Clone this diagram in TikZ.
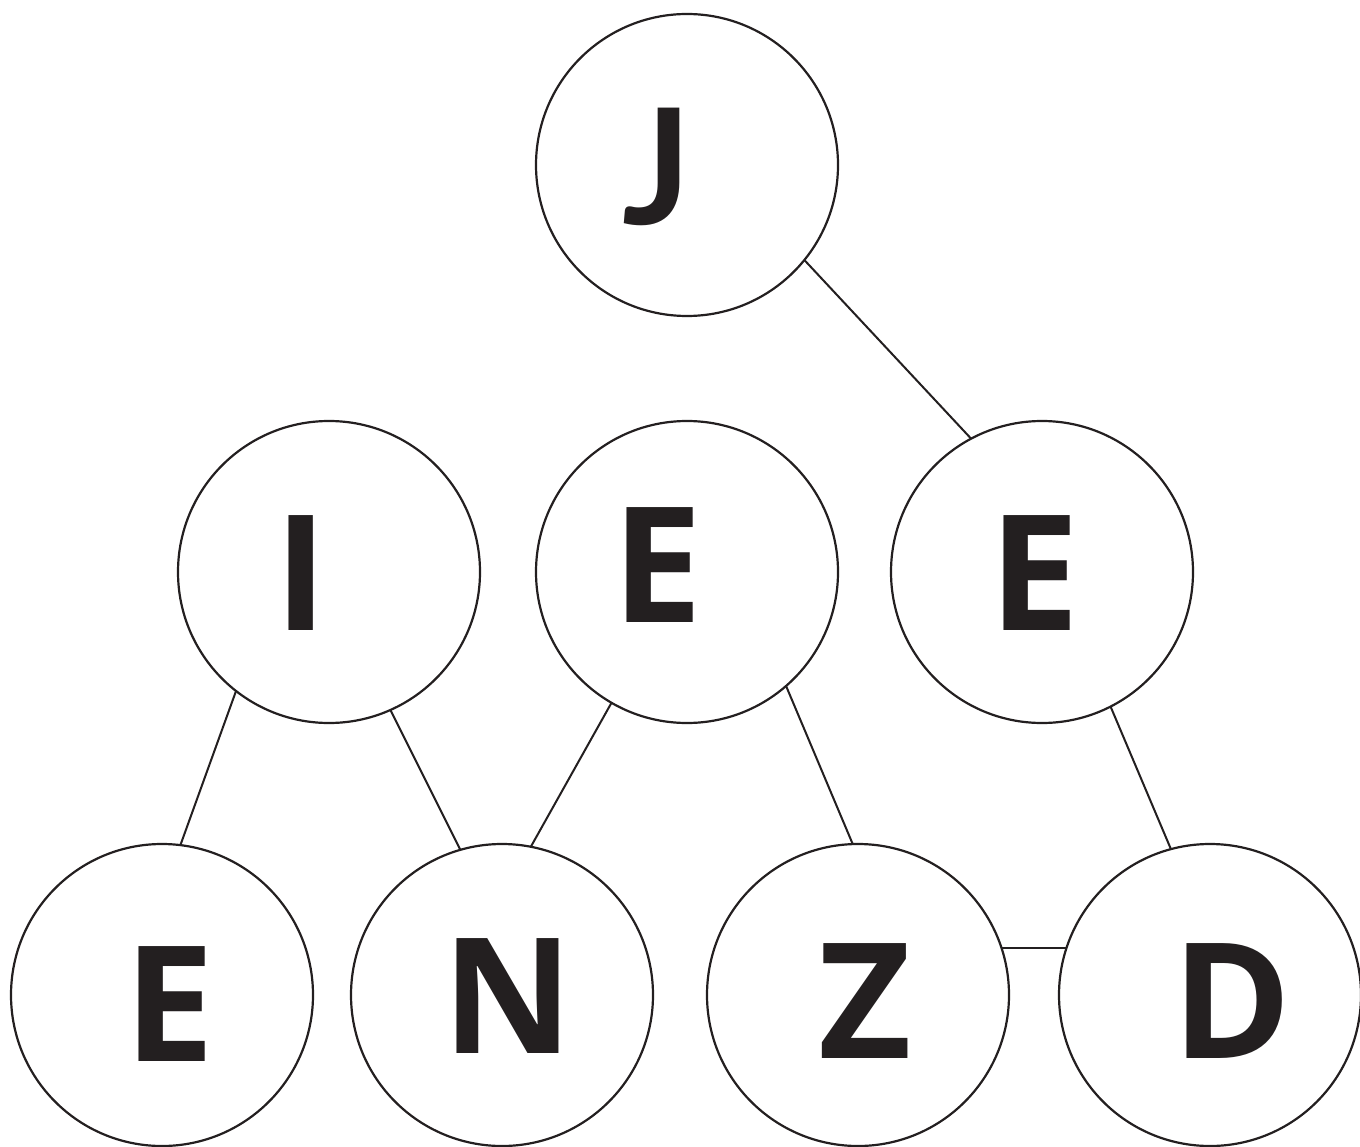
\documentclass[tikz,border=0pt]{standalone}
\usepackage{fontspec}
\setmainfont{Open Sans}
\newfontfamily\jfont{Lato}
\definecolor{ink}{HTML}{231F20}
\begin{document}
\begin{tikzpicture}[x=1pt,y=-1pt,
  ball/.style={circle,draw=ink,line width=2.2pt,minimum size=302pt,inner sep=0pt,outer sep=0pt},
  letter/.style={anchor=base,inner sep=0pt,text=ink,font=\fontsize{161}{161}\selectfont\bfseries},
  link/.style={draw=ink,line width=2pt}]
\useasboundingbox (0,0) rectangle (1360,1147);
% circles
\node[ball] (J) at (687,165) {};
\node[ball] (I) at (329,572) {};
\node[ball] (Em) at (687,572) {};
\node[ball] (Er) at (1042,572) {};
\node[ball] (Eb) at (162,995) {};
\node[ball] (N) at (502,995) {};
\node[ball] (Z) at (858,995) {};
\node[ball] (D) at (1210,995) {};
% letters
\node[letter,font=\fontsize{161}{161}\selectfont\jfont\bfseries] (tJ) at (657,225) {J};
\node[letter] (tI) at (301,630) {I};
\node[letter] (tEm) at (658,622) {E};
\node[letter] (tEr) at (1035,630) {E};
\node[letter] (tEb) at (170,1061) {E};
\node[letter] (tN) at (508,1053) {N};
\node[letter] (tZ) at (865,1058) {Z};
\node[letter] (tD) at (1232,1058) {D};
% connectors
\draw[link] (J.-39.3) -- (Er.118.7);
\draw[link] (I.232.7) -- (Eb.83.9);
\draw[link] (I.-66) -- (N.106.5);
\draw[link] (Em.240) -- (N.79.8);
\draw[link] (Em.-49.2) -- (Z.92.3);
\draw[link] (Er.-63.4) -- (D.105.4);
\draw[link] (Z.18.6) -- (Z.18.6 -| D.161.4);
\end{tikzpicture}
\end{document}
